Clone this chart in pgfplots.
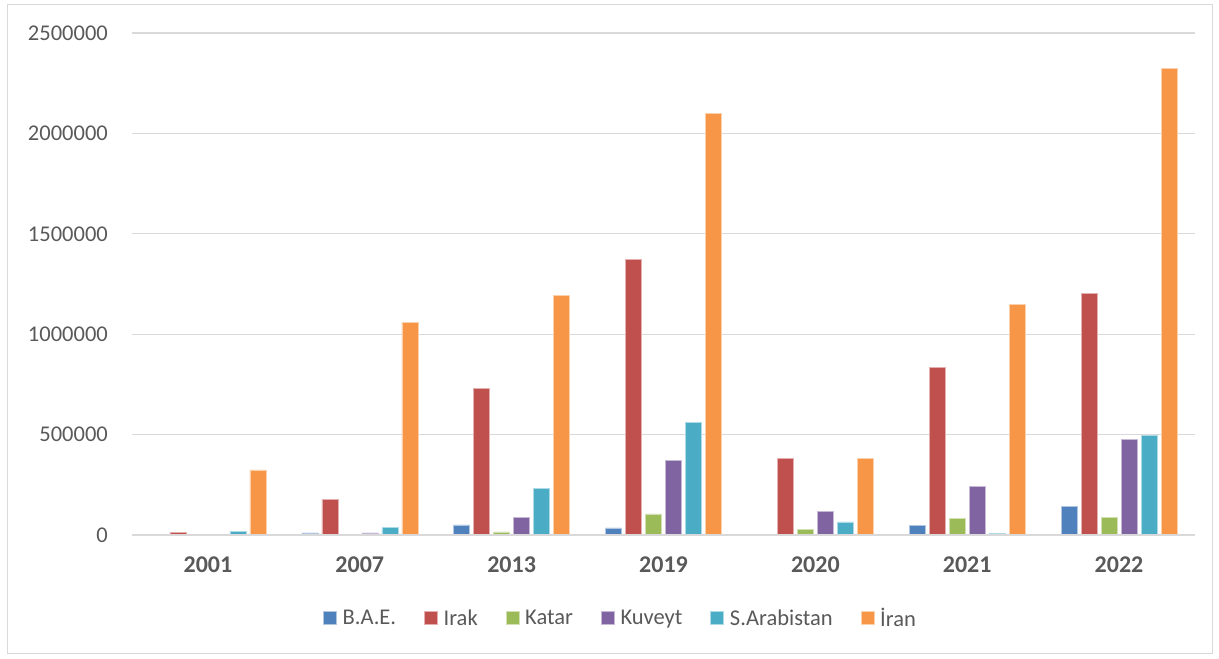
\documentclass[border=0pt]{standalone}
\usepackage{pgfplots}
\pgfplotsset{compat=1.18}
\usepackage{fontspec}
\setmainfont{Carlito}

\definecolor{cBAE}{HTML}{4F81BD}
\definecolor{cIrak}{HTML}{C0504D}
\definecolor{cKatar}{HTML}{9BBB59}
\definecolor{cKuveyt}{HTML}{8064A2}
\definecolor{cSA}{HTML}{4BACC6}
\definecolor{cIran}{HTML}{F79646}
\definecolor{gridgray}{HTML}{D9D9D9}
\definecolor{txtgray}{HTML}{595959}

% x: 0=2001, 1=2007, 2=2013, 3=2019, 4=2020, 5=2021, 6=2022
\begin{document}
\begin{tikzpicture}
\useasboundingbox (-132pt,-124pt) rectangle (1087pt,535pt);
\draw[gridgray, line width=1pt] (-124pt,-118pt) rectangle (1080pt,530pt);
\begin{axis}[
  at={(0pt,0pt)}, anchor=south west,
  scale only axis,
  width=1063pt, height=502pt,
  ybar=4pt, bar width=16pt,
  xmin=-0.5, xmax=6.5,
  ymin=0, ymax=2500000,
  xtick=data,
  xticklabels={2001,2007,2013,2019,2020,2021,2022},
  ytick={0,500000,1000000,1500000,2000000,2500000},
  scaled y ticks=false,
  /pgf/number format/assume math mode=true,
  /pgf/number format/fixed,
  /pgf/number format/1000 sep={},
  font=\fontsize{22.5}{27}\selectfont,
  tick label style={text=txtgray},
  xticklabel style={font=\fontsize{24}{28}\selectfont\bfseries, inner sep=0pt, yshift=-22pt},
  yticklabel style={inner sep=0pt, xshift=-24pt},
  major tick length=0pt,
  axis line style={draw=none},
  ymajorgrids,
  grid style={gridgray, line width=1.3pt},
  clip=false,
  legend columns=6,
  legend style={
    at={(0.5,0)}, anchor=center, yshift=-83pt, xshift=-43pt,
    draw=none, fill=none,
    font=\fontsize{22.5}{27}\selectfont,
    text=txtgray,
    /tikz/every even column/.append style={column sep=26pt},
    /tikz/every odd column/.append style={column sep=4pt},
  },
  legend image code/.code={\fill[#1] (0pt,-6.5pt) rectangle (13pt,6.5pt);},
  every axis plot/.append style={line width=0.5pt},
]
\addplot[fill=cBAE, draw=cBAE!45!white] coordinates {(0,3000) (1,10000) (2,50000) (3,35000) (4,3000) (5,48000) (6,143000)};
\addplot[fill=cIrak, draw=cIrak!45!white] coordinates {(0,14000) (1,176000) (2,730000) (3,1373000) (4,383000) (5,835000) (6,1205000)};
\addplot[fill=cKatar, draw=cKatar!45!white] coordinates {(0,1000) (1,2000) (2,15000) (3,105000) (4,27000) (5,81000) (6,88000)};
\addplot[fill=cKuveyt, draw=cKuveyt!45!white] coordinates {(0,2000) (1,10000) (2,86000) (3,370000) (4,116000) (5,244000) (6,475000)};
\addplot[fill=cSA, draw=cSA!45!white] coordinates {(0,17000) (1,37000) (2,231000) (3,560000) (4,65000) (5,7000) (6,496000)};
\addplot[fill=cIran, draw=cIran!45!white] coordinates {(0,324000) (1,1060000) (2,1195000) (3,2100000) (4,380000) (5,1150000) (6,2325000)};
\draw[gridgray, line width=1.5pt] (axis cs:-0.5,0) -- (axis cs:6.5,0);
\legend{B.A.E.,Irak,Katar,Kuveyt,S.Arabistan,İran}
\end{axis}
\end{tikzpicture}
\end{document}
